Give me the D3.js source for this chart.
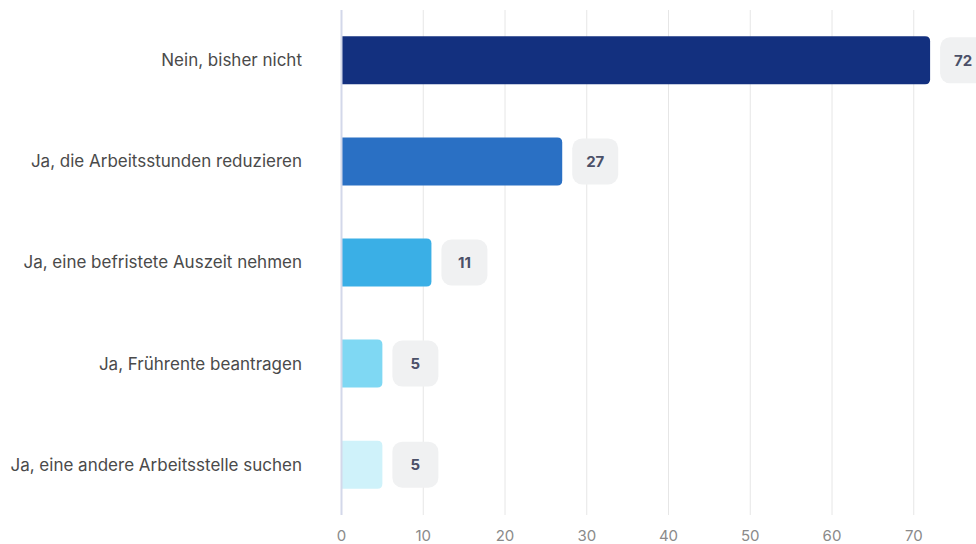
<!DOCTYPE html>
<meta charset="utf-8">
<html>
<head><title>Arbeitszeit</title></head>
<style>
body { margin: 0; background: #fff; }
svg text { font-family: Inter, "Noto Sans", sans-serif; }
</style>
<body>
<svg id="chart" width="976" height="544"></svg>
<script src="https://d3js.org/d3.v7.min.js"></script>
<script>

// data
var categories = [
  "Nein, bisher nicht",
  "Ja, die Arbeitsstunden reduzieren",
  "Ja, eine befristete Auszeit nehmen",
  "Ja, Frührente beantragen",
  "Ja, eine andere Arbeitsstelle suchen"
];
var values = [72, 27, 11, 5, 5];
var barColors = ["#13307f", "#2a70c4", "#3aafe6", "#7fd8f3", "#cff2fa"];
var tickValues = [0, 10, 20, 30, 40, 50, 60, 70];

var svg = d3.select("#chart"),
  width = +svg.attr("width"),
  height = +svg.attr("height");

var margin = {top: 10, right: 0, bottom: 29, left: 341.5};

var x = d3.scaleLinear()
  .domain([0, 77])
  .range([margin.left, margin.left + 81.75 * 7.7]);

var y = d3.scaleBand()
  .domain(categories)
  .range([margin.top, height - margin.bottom])
  .paddingInner(0.525)
  .paddingOuter(0.26);

// grid
svg.append("g")
  .selectAll("line")
  .data(tickValues.slice(1))
  .enter().append("line")
  .attr("x1", function(d) { return x(d); })
  .attr("x2", function(d) { return x(d); })
  .attr("y1", margin.top)
  .attr("y2", height - margin.bottom)
  .attr("stroke", "#e6e6e6")
  .attr("stroke-width", 1);

// tick labels
svg.append("g")
  .selectAll("text")
  .data(tickValues)
  .enter().append("text")
  .attr("x", function(d) { return x(d); })
  .attr("y", height - 3)
  .attr("text-anchor", "middle")
  .attr("font-size", 15)
  .attr("fill", "#8a8a8a")
  .text(function(d) { return d; });

// bars with rounded right end
function barPath(x0, x1, y0, h, r) {
  r = Math.min(r, (x1 - x0));
  return "M" + x0 + "," + y0 +
    "H" + (x1 - r) +
    "Q" + x1 + "," + y0 + " " + x1 + "," + (y0 + r) +
    "V" + (y0 + h - r) +
    "Q" + x1 + "," + (y0 + h) + " " + (x1 - r) + "," + (y0 + h) +
    "H" + x0 + "Z";
}

svg.append("g")
  .selectAll("path")
  .data(values)
  .enter().append("path")
  .attr("d", function(d, i) {
    return barPath(x(0), x(d), y(categories[i]), y.bandwidth(), 5);
  })
  .attr("fill", function(d, i) { return barColors[i]; });

// axis line
svg.append("line")
  .attr("x1", x(0)).attr("x2", x(0))
  .attr("y1", margin.top).attr("y2", height - margin.bottom)
  .attr("stroke", "#d3d8ea")
  .attr("stroke-width", 2);

// value badges
var badge = svg.append("g")
  .selectAll("g")
  .data(values)
  .enter().append("g")
  .attr("transform", function(d, i) {
    return "translate(" + (x(d) + 10) + "," + (y(categories[i]) + 1) + ")";
  });

badge.append("rect")
  .attr("width", 46)
  .attr("height", y.bandwidth() - 2)
  .attr("rx", 10)
  .attr("fill", "#f0f1f2");

badge.append("text")
  .attr("x", 23)
  .attr("y", (y.bandwidth() - 2) / 2)
  .attr("dy", "0.36em")
  .attr("text-anchor", "middle")
  .attr("font-size", 15)
  .attr("font-weight", 700)
  .attr("fill", "#4b5068")
  .text(function(d) { return d; });

// category labels
svg.append("g")
  .selectAll("text")
  .data(categories)
  .enter().append("text")
  .attr("x", 302)
  .attr("y", function(d) { return y(d) + y.bandwidth() / 2; })
  .attr("dy", "0.35em")
  .attr("text-anchor", "end")
  .attr("font-size", 17)
  .attr("fill", "#4a4a4a")
  .text(function(d) { return d; });

</script>
</body>
</html>
